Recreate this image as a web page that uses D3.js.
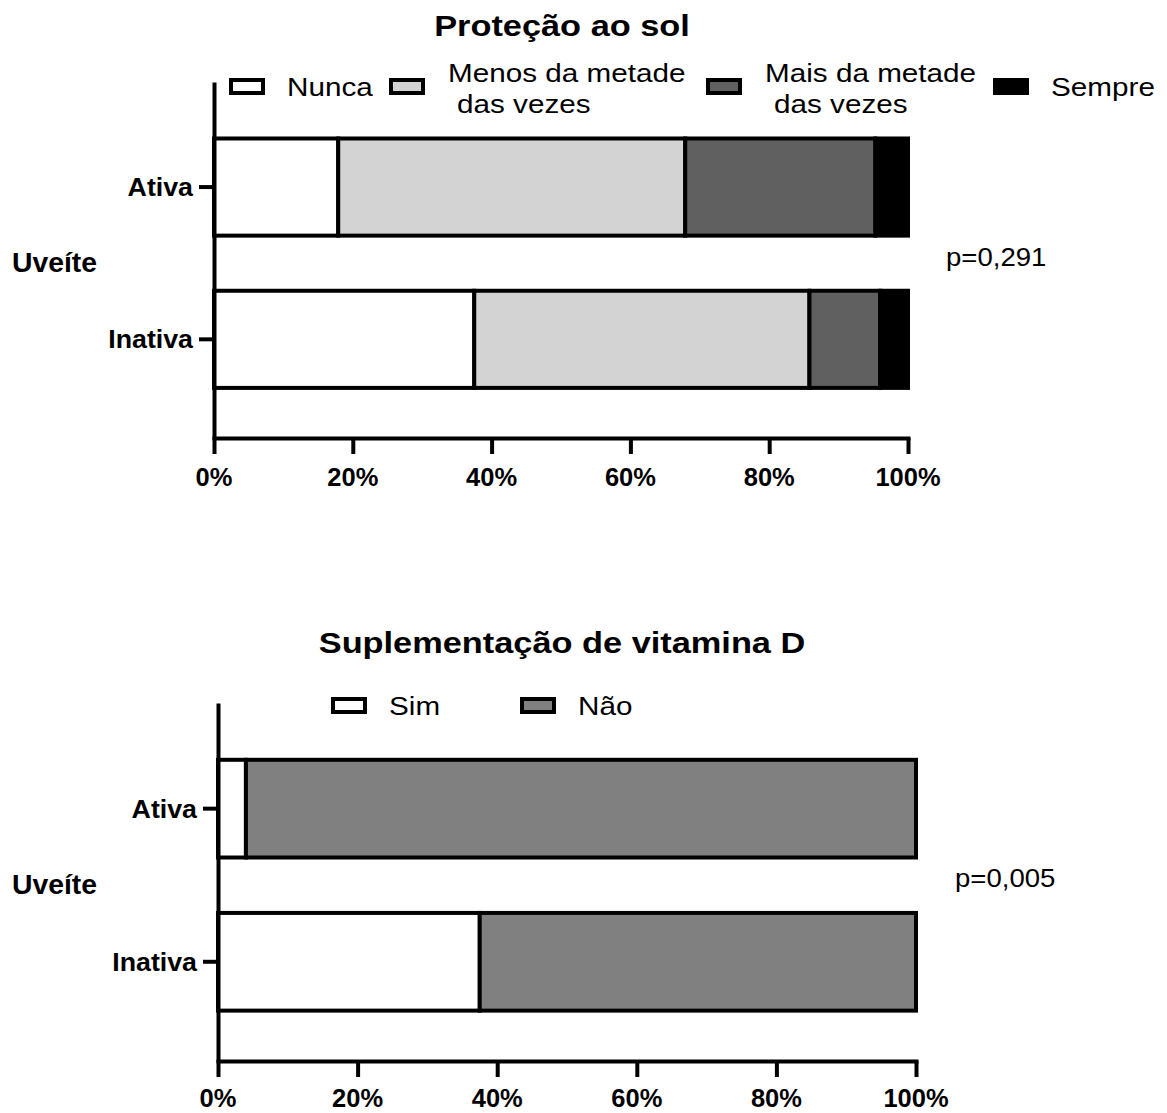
<!DOCTYPE html>
<html>
<head>
<meta charset="utf-8">
<script src="https://cdn.jsdelivr.net/npm/d3@7"></script>
<style>
  html, body { margin: 0; padding: 0; background: #fff; }
  svg { display: block; font-family: "Liberation Sans", Arial, sans-serif; }
</style>
</head>
<body>
<svg id="chart" width="1167" height="1113"></svg>
<script>
// categorias e valores (%)
var groups = ["Ativa", "Inativa"];
var groupTitle = "Uveíte";
var xTicks = [0, 20, 40, 60, 80, 100];

var sunTitle = "Proteção ao sol";
var sunKeys = ["Nunca", "Menos da metade das vezes", "Mais da metade das vezes", "Sempre"];
var sunLegend = [["Nunca"], ["Menos da metade", "das vezes"], ["Mais da metade", "das vezes"], ["Sempre"]];
var sunColors = ["#ffffff", "#d3d3d3", "#606060", "#000000"];
var sunAtiva = [17.9, 50.0, 27.4, 4.7];
var sunInativa = [37.5, 48.3, 10.2, 4.0];
var sunP = "p=0,291";

var vitTitle = "Suplementação de vitamina D";
var vitKeys = ["Sim", "Não"];
var vitLegend = [["Sim"], ["Não"]];
var vitColors = ["#ffffff", "#808080"];
var vitAtiva = [4.0, 96.0];
var vitInativa = [37.5, 62.5];
var vitP = "p=0,005";

var svg = d3.select("#chart");

// text helper: prism output looks a bit stretched horizontally
function txt(g, x, y, s, o) {
  o = o || {};
  return g.append("text")
    .attr("transform", "translate(" + x + "," + y + ") scale(" + (o.sx || 1) + ",1)")
    .attr("text-anchor", o.anchor || "start")
    .attr("font-size", o.size || 26)
    .attr("font-weight", o.bold ? "bold" : "normal")
    .attr("fill", "#000")
    .text(s);
}

function panel(cfg) {
  var rows = groups.map(function (g, i) {
    var r = { grupo: g };
    cfg.keys.forEach(function (k, j) { r[k] = cfg.values[i][j]; });
    return r;
  });
  var series = d3.stack().keys(cfg.keys)(rows);

  var x = d3.scaleLinear().domain([0, 100]).range([cfg.x0, cfg.x1]);
  var y = d3.scaleBand().domain(groups).range([cfg.y0, cfg.y1])
    .paddingInner(0.362).paddingOuter(0.35).align(0.53);
  var color = d3.scaleOrdinal().domain(cfg.keys).range(cfg.colors);

  var g = svg.append("g");

  // bars
  g.selectAll("g.serie").data(series).enter().append("g")
    .attr("class", "serie")
    .attr("fill", function (d) { return color(d.key); })
    .selectAll("rect").data(function (d) { return d; }).enter().append("rect")
    .attr("x", function (d) { return x(d[0]); })
    .attr("y", function (d) { return y(d.data.grupo); })
    .attr("width", function (d) { return x(d[1]) - x(d[0]); })
    .attr("height", y.bandwidth())
    .attr("stroke", "#000")
    .attr("stroke-width", 4);

  // y axis
  var ya = g.append("g").attr("transform", "translate(" + cfg.x0 + ",0)")
    .call(d3.axisLeft(y).tickSize(15).tickSizeOuter(0).tickPadding(6));
  ya.select(".domain").attr("stroke-width", 4);
  ya.selectAll(".tick line").attr("stroke-width", 4);
  ya.selectAll(".tick text").remove();
  groups.forEach(function (grp) {
    txt(g, cfg.x0 - 21, y(grp) + y.bandwidth() / 2 + 9, grp, { bold: true, anchor: "end", size: 26, sx: 1.03 });
  });
  txt(g, 12, (y("Ativa") + y("Inativa")) / 2 + y.bandwidth() / 2 + 9, groupTitle, { bold: true, size: 27, sx: 1.05 });

  // x axis
  var xa = g.append("g").attr("transform", "translate(0," + cfg.y1 + ")")
    .call(d3.axisBottom(x).tickValues(xTicks).tickSize(16).tickSizeOuter(0));
  xa.select(".domain").attr("stroke-width", 4).attr("stroke-linecap", "square");
  xa.selectAll(".tick line").attr("stroke-width", 4);
  xa.selectAll(".tick text").remove();
  xTicks.forEach(function (t) {
    txt(g, x(t), cfg.y1 + cfg.tickDy, t + "%", { bold: true, size: 26, anchor: "middle", sx: 0.98 });
  });

  // title
  txt(g, cfg.titleX, cfg.titleY, cfg.title, { bold: true, size: 30, anchor: "middle", sx: 1.145 });

  // legend
  cfg.legend.forEach(function (lab, i) {
    var lx = cfg.legendX[i];
    g.append("rect")
      .attr("x", lx + 2).attr("y", cfg.legendY - 7)
      .attr("width", 32).attr("height", 13)
      .attr("fill", color(cfg.keys[i]))
      .attr("stroke", "#000").attr("stroke-width", 4);
    if (lab.length === 1) {
      txt(g, lx + 58, cfg.legendY + 9, lab[0], { size: 26.5, sx: 1.12 });
    } else {
      txt(g, lx + 59, cfg.legendY - 5, lab[0], { size: 26.5, sx: 1.12 });
      txt(g, lx + 68, cfg.legendY + 26, lab[1], { size: 26.5, sx: 1.12 });
    }
  });

  // p value
  txt(g, cfg.pX, cfg.pY, cfg.p, { size: 26, sx: 1.06 });
}

panel({
  title: sunTitle, titleX: 562, titleY: 36,
  keys: sunKeys, colors: sunColors, values: [sunAtiva, sunInativa],
  legend: sunLegend, legendX: [229, 389, 706, 993], legendY: 87,
  x0: 214, x1: 908, y0: 82, y1: 438, tickDy: 48,
  p: sunP, pX: 946, pY: 266
});

panel({
  title: vitTitle, titleX: 562, titleY: 653,
  keys: vitKeys, colors: vitColors, values: [vitAtiva, vitInativa],
  legend: vitLegend, legendX: [331, 520], legendY: 706,
  x0: 218, x1: 916, y0: 703, y1: 1061, tickDy: 46,
  p: vitP, pX: 955, pY: 887
});
</script>
</body>
</html>
